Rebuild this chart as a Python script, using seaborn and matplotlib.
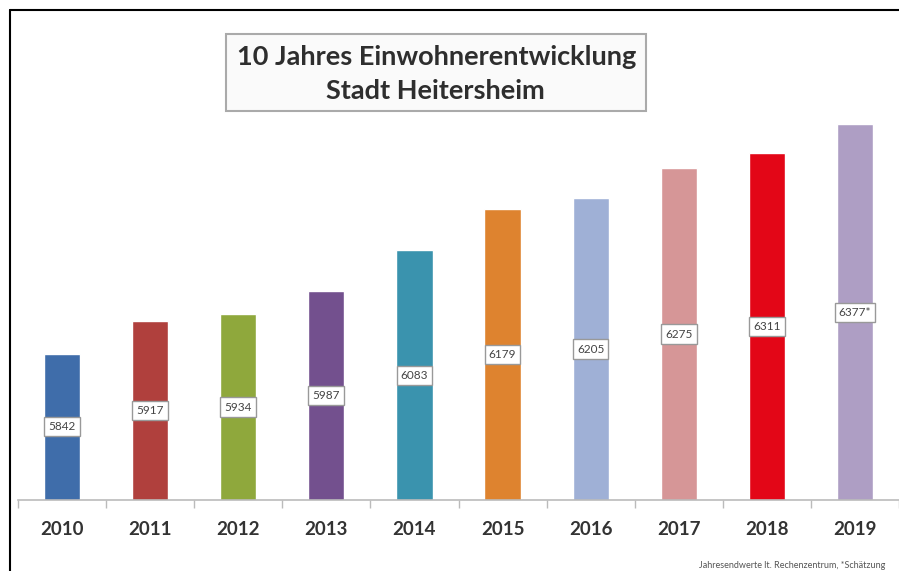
import pandas as pd
import matplotlib.pyplot as plt
import seaborn as sns
from matplotlib.lines import Line2D
from matplotlib.patches import Rectangle

# Daten
jahre = ['2010', '2011', '2012', '2013', '2014', '2015', '2016', '2017', '2018', '2019']
einwohner = [5842, 5917, 5934, 5987, 6083, 6179, 6205, 6275, 6311, 6377]
beschriftung = ['5842', '5917', '5934', '5987', '6083', '6179', '6205', '6275', '6311', '6377*']
farben = ['#3F6DAA', '#B0403D', '#8FA83C', '#73508E', '#3A93AE',
          '#DE832F', '#9FB0D6', '#D69697', '#E30617', '#AE9EC4']

df = pd.DataFrame({'Jahr': jahre, 'Einwohner': einwohner})

sns.set_theme(style='white')
plt.rcParams['font.family'] = ['Lato', 'DejaVu Sans']

fig = plt.figure(figsize=(8.99, 5.71), dpi=100)
ax = fig.add_axes([18 / 899, 71 / 571, 881 / 899, 394 / 571])

sns.barplot(x='Jahr', y='Einwohner', data=df, hue='Jahr', palette=farben,
            width=0.41, legend=False, ax=ax, saturation=1)

ax.set_ylim(5500, 6420)
ax.set_xlim(-0.5, 9.5)
ax.set_yticks([])
ax.set_xlabel('')
ax.set_ylabel('')
for s in ['top', 'right', 'left']:
    ax.spines[s].set_visible(False)
ax.spines['bottom'].set_color('#BBBBBB')
ax.spines['bottom'].set_linewidth(1.2)

ax.set_xticks(range(10))
ax.set_xticklabels(jahre, fontsize=13.5, fontweight='bold', color='#333333')
ax.set_xticks([i - 0.5 for i in range(11)], minor=True)
ax.tick_params(axis='x', which='major', length=0, pad=15)
ax.tick_params(axis='x', which='minor', length=6, color='#BBBBBB', width=1, bottom=True)

# Werte in Kästchen in der Balkenmitte
for i, (wert, text) in enumerate(zip(einwohner, beschriftung)):
    ax.text(i, (5500 + wert) / 2, text, ha='center', va='center', fontsize=8.5,
            color='#444444',
            bbox=dict(boxstyle='square,pad=0.35', facecolor='white',
                      edgecolor='#999999', linewidth=1))

# Titelkasten
fig.add_artist(Rectangle((226 / 899, 1 - 111 / 571), 420 / 899, 77 / 571,
                         transform=fig.transFigure, facecolor='#FAFAFA',
                         edgecolor='#AAAAAA', linewidth=1.5))
fig.text(437 / 899, 1 - 57 / 571, '10 Jahres Einwohnerentwicklung', ha='center',
         va='center', fontsize=19.5, fontweight='bold', color='#2E2E2E')
fig.text(435 / 899, 1 - 91 / 571, 'Stadt Heitersheim', ha='center',
         va='center', fontsize=19.5, fontweight='bold', color='#2E2E2E')

# Rahmen
fig.add_artist(Line2D([10 / 899, 10 / 899], [0, 1 - 10 / 571], color='black', linewidth=1.5))
fig.add_artist(Line2D([10 / 899, 1], [1 - 10 / 571, 1 - 10 / 571], color='black', linewidth=1.5))

fig.text(885 / 899, 1 - 565 / 571, 'Jahresendwerte lt. Rechenzentrum, *Schätzung',
         ha='right', va='center', fontsize=6.5, color='#555555')

fig.savefig('out.png', dpi=100)
